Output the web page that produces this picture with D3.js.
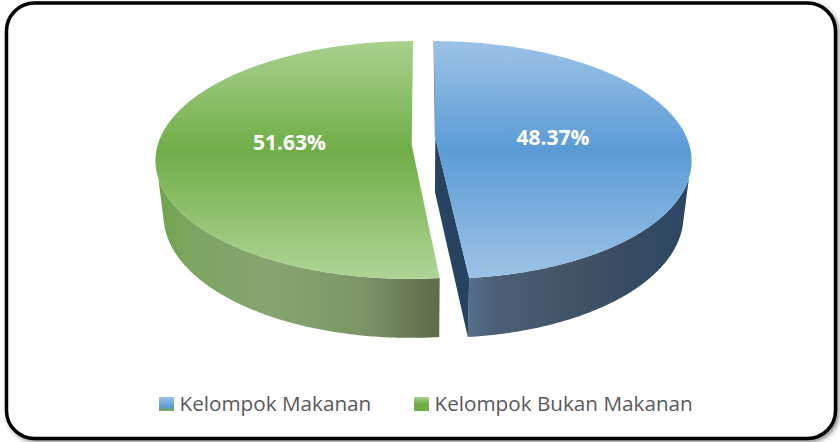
<!DOCTYPE html>
<html>
<head>
<meta charset="utf-8">
<script src="https://cdn.jsdelivr.net/npm/d3@7"></script>
<style>
  html, body { margin: 0; padding: 0; background: #fff; }
  svg { display: block; }
  text { font-family: "Open Sans", sans-serif; }
</style>
</head>
<body>
<div id="chart"></div>
<script>
const categories = ['Kelompok Makanan', 'Kelompok Bukan Makanan'];
const values = [48.37, 51.63];
const valueLabels = ['48.37%', '51.63%'];

const width = 840;
const height = 442;

// pie seen in perspective: k makes the back rim smaller than the front
const cx = 423.5, cy = 145;
const A = 254, B = 117, k = 0.126;
const explode = 0.0465;
const wallScale = 0.97;

const svg = d3.select('#chart').append('svg')
  .attr('width', width)
  .attr('height', height);

const defs = svg.append('defs');

function gradient(id, stops, attrs) {
  const g = defs.append('linearGradient').attr('id', id).attr('gradientUnits', 'userSpaceOnUse');
  Object.entries(attrs).forEach(([key, val]) => g.attr(key, val));
  stops.forEach(([offset, col]) => g.append('stop').attr('offset', offset).attr('stop-color', col));
}

gradient('topBlue', [[0, '#9cc3e6'], [0.46, '#5b9bd5'], [1, '#9dc3e6']], { x1: 0, x2: 0, y1: 41, y2: 279 });
gradient('topGreen', [[0, '#a9d18e'], [0.46, '#70ad47'], [1, '#b0d597']], { x1: 0, x2: 0, y1: 41, y2: 281 });
gradient('wallBlue', [[0, '#566f8d'], [0.12, '#4b6078'], [0.6, '#3c4f63'], [1, '#2b4663']], { x1: 468, x2: 690, y1: 0, y2: 0 });
gradient('wallGreen', [[0, '#6ea548'], [0.1, '#7ca55f'], [0.4, '#86a571'], [0.72, '#7c9568'], [1, '#5e6c49']], { x1: 158, x2: 440, y1: 0, y2: 0 });
gradient('swatchBlue', [[0, '#9cc3e6'], [0.72, '#5b9bd5'], [1, '#70ad47']], { x1: 0, x2: 0, y1: 397, y2: 411 });
gradient('swatchGreen', [[0, '#a9d18e'], [0.5, '#70ad47'], [1, '#70ad47']], { x1: 0, x2: 0, y1: 397, y2: 411 });

const shadow = defs.append('filter').attr('id', 'frameShadow')
  .attr('x', '-5%').attr('y', '-5%').attr('width', '110%').attr('height', '110%');
shadow.append('feDropShadow')
  .attr('dx', 2).attr('dy', 2).attr('stdDeviation', 2)
  .attr('flood-color', '#000').attr('flood-opacity', 0.45);

// Frame
svg.append('rect')
  .attr('x', 6.5)
  .attr('y', 3)
  .attr('width', 829)
  .attr('height', 435.5)
  .attr('rx', 28)
  .attr('fill', '#fff')
  .attr('stroke', '#000')
  .attr('stroke-width', 3.5)
  .attr('filter', 'url(#frameShadow)');

function project(theta, r, side) {
  const u = r * Math.sin(theta) + side * explode;
  const v = r * Math.cos(theta);
  const w = 1 + k * v;
  // blue slice leans a little further right towards the viewer
  const nudge = side > 0 && v < 0 ? 2.5 * v * v : 0;
  return [cx + A * u / w + nudge, cy - B * v / w];
}

function projectBottom(theta, r, side) {
  const [x, y] = project(theta, r, side);
  return [cx + wallScale * (x - cx), y + 54 - 5 * r * Math.cos(theta)];
}

function sweep(a0, a1) {
  const n = Math.ceil(Math.abs(a1 - a0) / 0.01);
  return d3.range(n + 1).map((i) => a0 + (a1 - a0) * i / n);
}

const line = d3.line();
const arcs = d3.pie().sort(null)(values);
const rad = (deg) => deg * Math.PI / 180;

const slices = [
  { arc: arcs[0], side: 1, lift: 7, top: 'topBlue', wall: 'wallBlue', wallFrom: rad(106), wallFromBottom: rad(102), wallTo: arcs[0].endAngle, wallToBottom: arcs[0].endAngle, labelR: 0.465, labelLift: 3 },
  { arc: arcs[1], side: -1, lift: 0, top: 'topGreen', wall: 'wallGreen', wallFrom: arcs[1].startAngle, wallFromBottom: arcs[1].startAngle, wallTo: rad(254), wallToBottom: rad(258), labelR: 0.48, labelLift: 4 }
];

// green goes first, the blue slice sits in front of the gap
[slices[1], slices[0]].forEach((s) => {
  const apex = project(0, 0, s.side);
  apex[1] -= s.lift;
  const apexBottom = projectBottom(0, 0, s.side);
  apexBottom[1] -= s.lift;

  // Wall
  const wallTop = sweep(s.wallFrom, s.wallTo).map((t) => project(t, 1, s.side));
  const wallBottom = sweep(s.wallToBottom, s.wallFromBottom).map((t) => projectBottom(t, 1, s.side));
  svg.append('path')
    .attr('d', line(wallTop.concat(wallBottom)) + 'Z')
    .attr('fill', `url(#${s.wall})`);

  // Cut face, only the blue slice shows one
  if (s.side === 1) {
    svg.append('path')
      .attr('d', line([
        apex,
        project(s.arc.endAngle, 1, s.side),
        projectBottom(s.arc.endAngle, 1, s.side),
        apexBottom
      ]) + 'Z')
      .attr('fill', '#264362');
    svg.append('path')
      .attr('d', line([project(0, 1, s.side), apex]))
      .attr('stroke', '#2f4b68')
      .attr('stroke-opacity', 0.7)
      .attr('stroke-width', 1)
      .attr('fill', 'none');
  }

  // Top face
  const rim = sweep(s.arc.startAngle, s.arc.endAngle).map((t) => project(t, 1, s.side));
  svg.append('path')
    .attr('d', line([apex].concat(rim)) + 'Z')
    .attr('fill', `url(#${s.top})`);
});

// Value labels
slices.forEach((s, i) => {
  const mid = (s.arc.startAngle + s.arc.endAngle) / 2;
  const [x, y] = project(mid, s.labelR, s.side);
  svg.append('text')
    .attr('x', x)
    .attr('y', y - s.labelLift)
    .attr('text-anchor', 'middle')
    .attr('dominant-baseline', 'middle')
    .attr('fill', '#fff')
    .attr('font-size', 21)
    .attr('font-weight', 700)
    .text(valueLabels[i]);
});

// Legend
const legendX = d3.scaleOrdinal().domain(categories).range([159, 414]);
categories.forEach((c, i) => {
  svg.append('rect')
    .attr('x', legendX(c))
    .attr('y', 397)
    .attr('width', 15)
    .attr('height', 14)
    .attr('fill', i === 0 ? 'url(#swatchBlue)' : 'url(#swatchGreen)');
  svg.append('text')
    .attr('x', legendX(c) + 20.5)
    .attr('y', 411)
    .attr('fill', '#595959')
    .attr('font-size', 20.7)
    .text(c);
});
</script>
</body>
</html>
